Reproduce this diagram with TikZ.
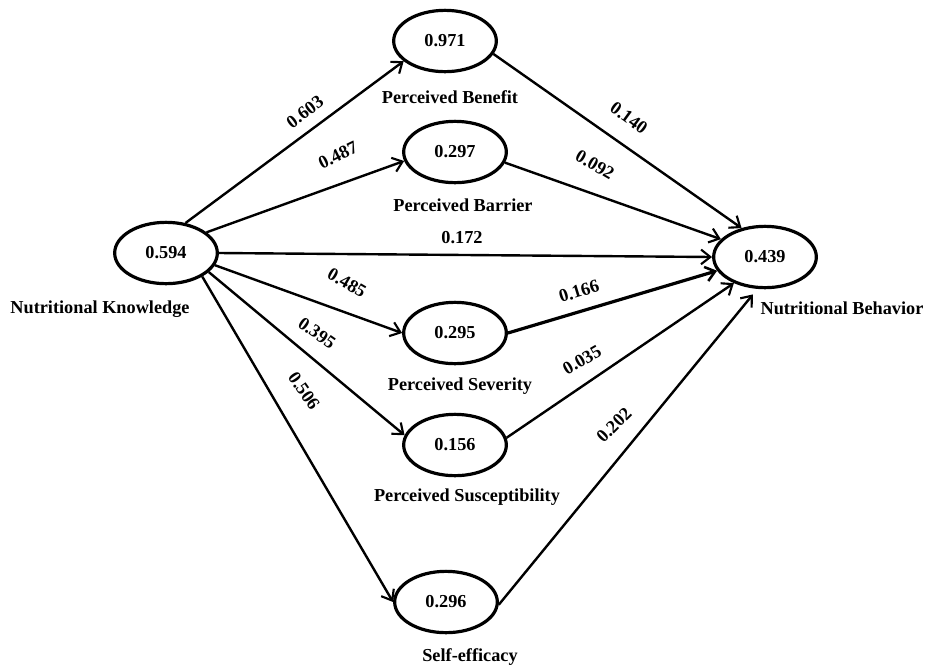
\documentclass[tikz,border=0pt]{standalone}
\usepackage{fontspec}
\setmainfont{Liberation Serif}
\usetikzlibrary{shapes.geometric,arrows.meta}
\begin{document}
\begin{tikzpicture}[x=0.75pt,y=-0.75pt,
  every node/.style={font=\fontsize{13.7}{16}\selectfont\bfseries},
  latent/.style={ellipse,draw,line width=2.4pt,minimum width=77pt,minimum height=46pt,inner sep=0pt},
  path/.style={line width=1.8pt,-{Straight Barb[length=7pt,width=11pt,line width=1.6pt]}},
  strongpath/.style={line width=2.4pt,-{Straight Barb[length=7pt,width=11pt,line width=1.9pt]}},
  coef/.style={inner sep=1pt}]
\useasboundingbox (0,0) rectangle (926,669);
% latent variables
\node[latent] (nk) at (166,253) {0.594};
\node[latent] (pb) at (445,41) {0.971};
\node[latent] (pbar) at (455,152) {0.297};
\node[latent] (psev) at (455,333) {0.295};
\node[latent] (psus) at (455,445) {0.156};
\node[latent] (se) at (446,602) {0.296};
\node[latent] (nb) at (765,257) {0.439};
% names
\node (nkl) at (100,309) {Nutritional Knowledge};
\node (pbl) at (450,97) {Perceived Benefit};
\node (pbarl) at (463,205) {Perceived Barrier};
\node (psevl) at (460,386) {Perceived Severity};
\node (psusl) at (467,497) {Perceived Susceptibility};
\node (sel) at (470,657) {Self-efficacy};
\node (nbl) at (842,308) {Nutritional Behavior};
% paths from knowledge
\draw[path] (nk.57) -- (pb.206);
\draw[path] (nk.27) -- (pbar.190);
\draw[path] (nk.0) -- (nb.180);
\draw[path] (nk.-14) -- (psev.180);
\draw[path] (nk.-24) -- (psus.169);
\draw[path] (nk.-33) -- (se.180);
% paths to behavior
\draw[path] (pb.-15) -- (nb.129);
\draw[path] (pbar.-12) -- (nb.158);
\draw[strongpath] (psev.0) -- (nb.196);
\draw[path] (psus.8) -- (nb.220);
\draw[path] (se.-3) -- ([yshift=-4.5pt]nb.249);
% coefficients
\node[coef,rotate=37] (c1) at (305,112) {0.603};
\node[coef,rotate=26] (c2) at (338,155) {0.487};
\node[coef] (c3) at (462,238) {0.172};
\node[coef,rotate=-30] (c4) at (347,283) {0.485};
\node[coef,rotate=-35] (c5) at (317,333) {0.395};
\node[coef,rotate=-55] (c6) at (304,391) {0.506};
\node[coef,rotate=-36] (c7) at (629,118) {0.140};
\node[coef,rotate=-30] (c8) at (595,165) {0.092};
\node[coef,rotate=17] (c9) at (579,291) {0.166};
\node[coef,rotate=30] (c10) at (582,360) {0.035};
\node[coef,rotate=45] (c11) at (614,425) {0.202};
\end{tikzpicture}
\end{document}
